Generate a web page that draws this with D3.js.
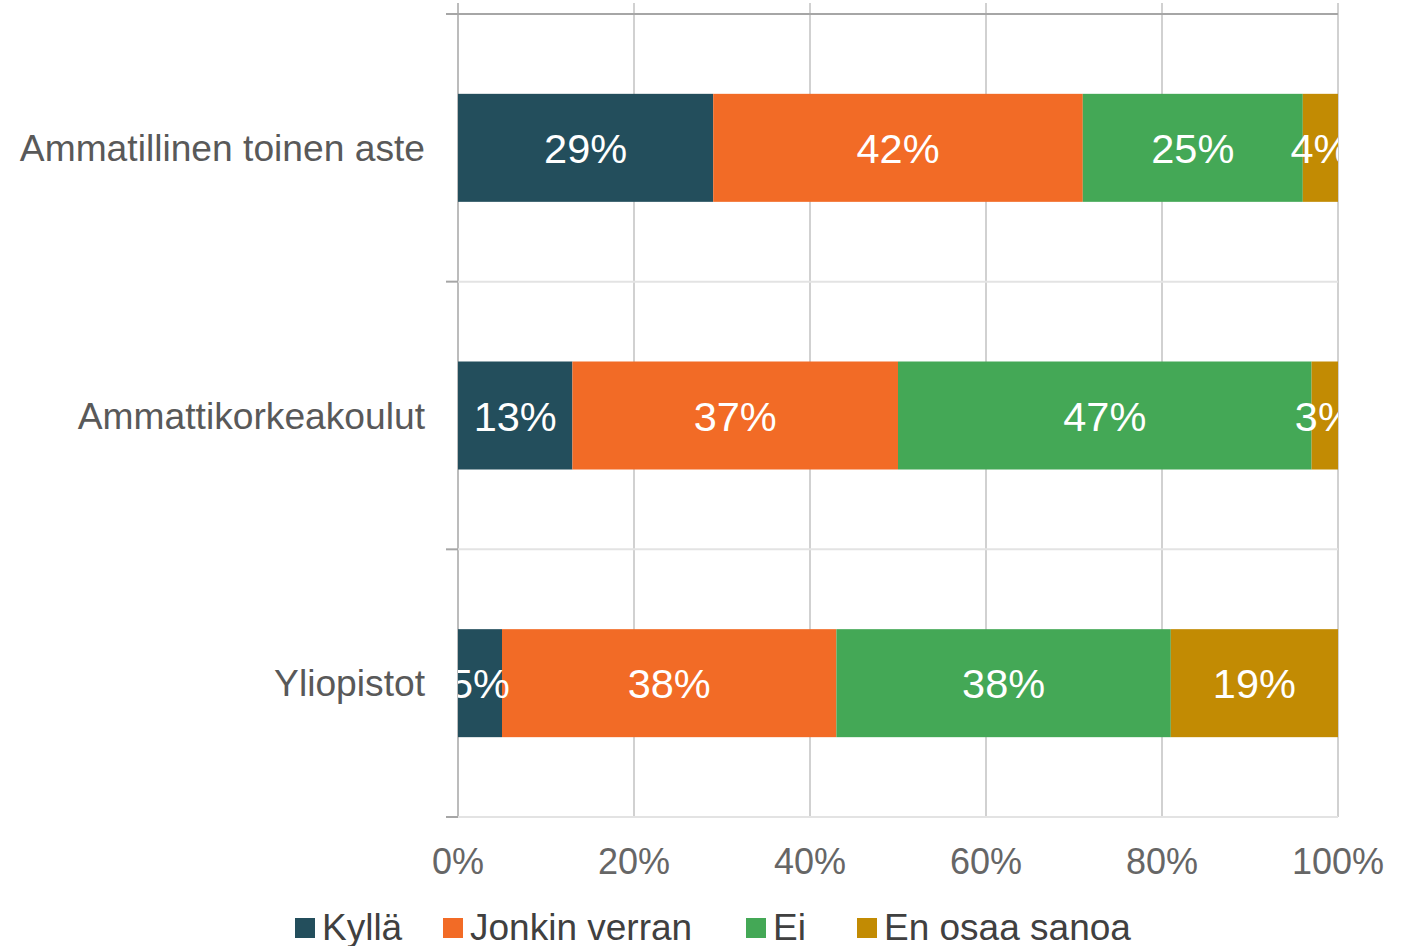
<!DOCTYPE html>
<html><head><meta charset="utf-8">
<script src="https://cdn.jsdelivr.net/npm/d3@7"></script>
<style>body{margin:0;background:#fff}svg{display:block}text{font-family:"Liberation Sans",Arial,sans-serif}</style>
</head><body>
<svg id="c" width="1406" height="946"></svg>
<script>
const categories = ["Ammatillinen toinen aste", "Ammattikorkeakoulut", "Yliopistot"];
const seriesNames = ["Kyllä", "Jonkin verran", "Ei", "En osaa sanoa"];
const seriesColors = ["#234e5c", "#f26b26", "#44a856", "#c28b03"];
const kylla = [29, 13, 5];
const jonkin = [42, 37, 38];
const ei = [25, 47, 38];
const enOsaa = [4, 3, 19];
const xTicks = [0, 20, 40, 60, 80, 100];

const series = [kylla, jonkin, ei, enOsaa];
const svg = d3.select("#c");
const L = 458, R = 1338, T = 14, B = 817;
const x = d3.scaleLinear().domain([0, 100]).range([L, R]);
const y = d3.scaleBand().domain(categories).range([T, B]).paddingInner(0.5965).paddingOuter(0.5965/2);
const step = y.step();

// vertical gridlines
svg.append("g").selectAll("line").data(xTicks).join("line")
  .attr("x1", d => x(d)).attr("x2", d => x(d)).attr("y1", 3).attr("y2", B)
  .attr("stroke", d => d === 0 ? "#a6a6a6" : "#b3b3b3").attr("stroke-width", d => d === 0 ? 1.5 : 1.2);

// horizontal band boundaries
const bounds = d3.range(categories.length + 1).map(i => T + i * step);
svg.append("g").selectAll("line").data(bounds).join("line")
  .attr("x1", L).attr("x2", R).attr("y1", d => d).attr("y2", d => d)
  .attr("stroke", (d, i) => i === 0 ? "#a6a6a6" : "#e3e3e3").attr("stroke-width", 2);
svg.append("g").selectAll("line").data(bounds).join("line")
  .attr("x1", 446).attr("x2", L).attr("y1", d => d).attr("y2", d => d)
  .attr("stroke", "#a6a6a6").attr("stroke-width", 2);

// stacked data
const rows = categories.map((c, i) => {
  let acc = 0;
  return series.map((s, k) => { const v = s[i]; const o = {cat: c, k, v, x0: acc, x1: acc + v}; acc += v; return o; });
}).flat();

svg.append("defs").append("clipPath").attr("id", "plot")
  .append("rect").attr("x", L).attr("y", 0).attr("width", R - L).attr("height", 946);

svg.append("g").selectAll("rect").data(rows).join("rect")
  .attr("x", d => x(d.x0)).attr("width", d => x(d.x1) - x(d.x0))
  .attr("y", d => y(d.cat)).attr("height", y.bandwidth())
  .attr("fill", d => seriesColors[d.k]);

svg.append("g").attr("clip-path", "url(#plot)").selectAll("text").data(rows).join("text")
  .attr("x", d => x((d.x0 + d.x1) / 2)).attr("y", d => y(d.cat) + y.bandwidth() / 2 + 15)
  .attr("text-anchor", "middle").attr("fill", "#fff").attr("font-size", 41.5)
  .text(d => d.v + "%");

// category labels
svg.append("g").selectAll("text").data(categories).join("text")
  .attr("x", 425).attr("y", d => y(d) + y.bandwidth() / 2 + 13)
  .attr("text-anchor", "end").attr("fill", "#595959").attr("font-size", 37.2)
  .text(d => d);

// x tick labels
svg.append("g").selectAll("text").data(xTicks).join("text")
  .attr("x", d => x(d)).attr("y", 874)
  .attr("text-anchor", "middle").attr("fill", "#666666").attr("font-size", 36)
  .text(d => d + "%");

// legend
const legX = [295, 443, 746, 857];
const lg = svg.append("g").selectAll("g").data(seriesNames).join("g")
  .attr("transform", (d, i) => `translate(${legX[i]},0)`);
lg.append("rect").attr("x", 0).attr("y", 918).attr("width", 20).attr("height", 20)
  .attr("fill", (d, i) => seriesColors[i]);
lg.append("text").attr("x", 27).attr("y", 940).attr("fill", "#404040").attr("font-size", 37).text(d => d);
</script>
</body></html>
